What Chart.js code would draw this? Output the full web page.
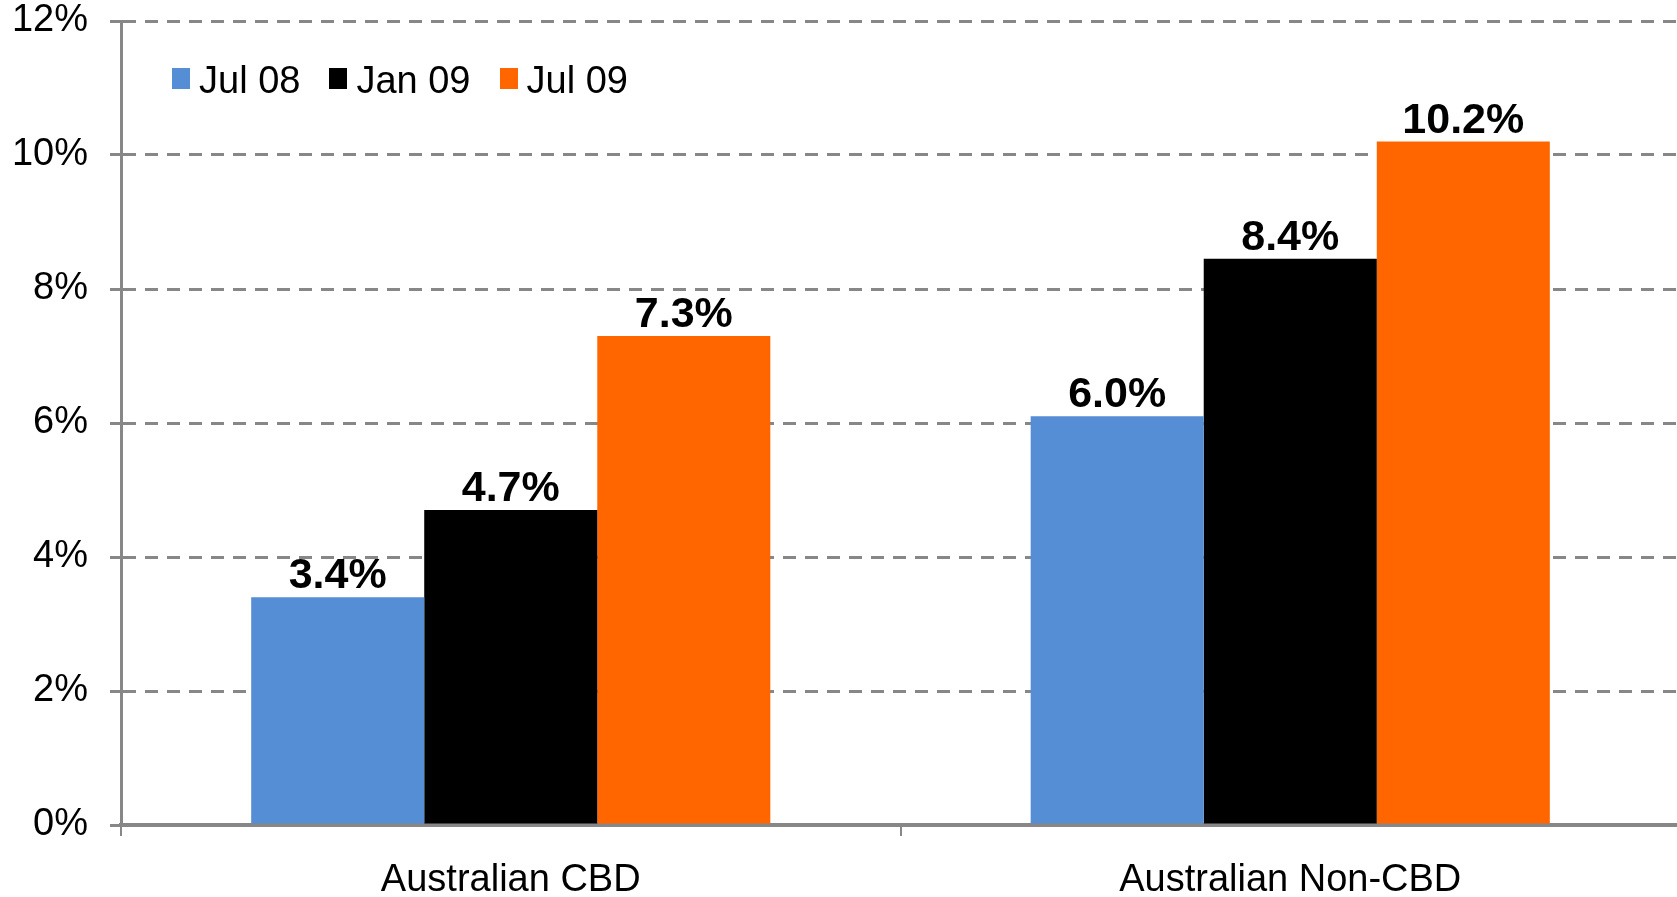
<!DOCTYPE html>
<html>
<head>
<meta charset="utf-8">
<script src="https://cdn.jsdelivr.net/npm/chart.js@4.4.1/dist/chart.umd.min.js"></script>
<style>
  html, body { margin: 0; padding: 0; background: #fff; overflow: hidden; }
  #wrap { position: relative; width: 1677px; height: 897px; overflow: hidden; }
  #legend { position: absolute; left: 172px; top: 61px; display: flex;
    font-family: "Liberation Sans", Arial, sans-serif;
    font-size: 38px; line-height: 38px; color: #000; }
  #legend .item { display: flex; align-items: flex-start; margin-right: 29px; }
  #legend .box { width: 18px; height: 21px; margin-top: 7px; margin-right: 9px; }
</style>
</head>
<body>
<div id="wrap">
  <canvas id="barChart" width="1690" height="897"></canvas>
  <div id="legend"></div>
</div>
<script>
var categories = ['Australian CBD', 'Australian Non-CBD'];
var seriesNames = ['Jul 08', 'Jan 09', 'Jul 09'];
var jul08 = [3.4, 6.1];
var jan09 = [4.7, 8.45];
var jul09 = [7.3, 10.2];
var jul08Labels = ['3.4%', '6.0%'];
var jan09Labels = ['4.7%', '8.4%'];
var jul09Labels = ['7.3%', '10.2%'];
var yTicks = [0, 2, 4, 6, 8, 10, 12];
var colors = ['#558ED5', '#000000', '#FF6600'];

var sans = '"Liberation Sans", Arial, sans-serif';
var gridGrey = '#878787';

// labels on top of the bars
var valueLabels = {
    id: 'valueLabels',
    afterDatasetsDraw: function (chart) {
        var ctx = chart.ctx;
        ctx.save();
        ctx.font = 'bold 43px ' + sans;
        ctx.fillStyle = '#000';
        ctx.textAlign = 'center';
        ctx.textBaseline = 'alphabetic';
        chart.data.datasets.forEach(function (ds, d) {
            chart.getDatasetMeta(d).data.forEach(function (bar, i) {
                ctx.fillText(ds.valueText[i], bar.x, bar.y - 9);
            });
        });
        ctx.restore();
    }
};

var ctx = document.getElementById('barChart').getContext('2d');
var barChart = new Chart(ctx, {
    type: 'bar',
    data: {
        labels: categories,
        datasets: [
            { label: seriesNames[0], data: jul08, valueText: jul08Labels, backgroundColor: colors[0] },
            { label: seriesNames[1], data: jan09, valueText: jan09Labels, backgroundColor: colors[1] },
            { label: seriesNames[2], data: jul09, valueText: jul09Labels, backgroundColor: colors[2] }
        ]
    },
    options: {
        responsive: false,
        animation: false,
        events: [],
        categoryPercentage: 0.666,
        barPercentage: 1.0,
        layout: { padding: { top: 21, right: 10, left: 0, bottom: 0 } },
        plugins: {
            legend: { display: false },
            tooltip: { enabled: false }
        },
        scales: {
            x: {
                afterFit: function (axis) { axis.height = 72; },
                grid: {
                    drawOnChartArea: false,
                    offset: true,
                    color: gridGrey,
                    lineWidth: 2,
                    tickLength: 11
                },
                border: { color: gridGrey, width: 4 },
                ticks: {
                    color: '#000',
                    padding: 22,
                    font: { family: sans, size: 38 }
                }
            },
            y: {
                min: 0,
                max: 12,
                afterFit: function (axis) {
                    axis.width = 121;
                    axis.paddingTop = 0;
                    axis.paddingBottom = 0;
                },
                afterBuildTicks: function (axis) {
                    axis.ticks = yTicks.map(function (v) { return { value: v }; });
                },
                grid: {
                    color: gridGrey,
                    lineWidth: 3,
                    tickLength: 11,
                    tickBorderDash: [13, 9]
                },
                border: { color: gridGrey, width: 3, dash: [13, 9] },
                ticks: {
                    color: '#000',
                    padding: 22,
                    font: { family: sans, size: 38 },
                    callback: function (v) { return v + '%'; }
                }
            }
        }
    },
    plugins: [valueLabels]
});

// legend drawn as html
var legend = document.getElementById('legend');
seriesNames.forEach(function (name, i) {
    var item = document.createElement('div');
    item.className = 'item';
    var box = document.createElement('span');
    box.className = 'box';
    box.style.background = colors[i];
    var text = document.createElement('span');
    text.textContent = name;
    item.appendChild(box);
    item.appendChild(text);
    legend.appendChild(item);
});
</script>
</body>
</html>
